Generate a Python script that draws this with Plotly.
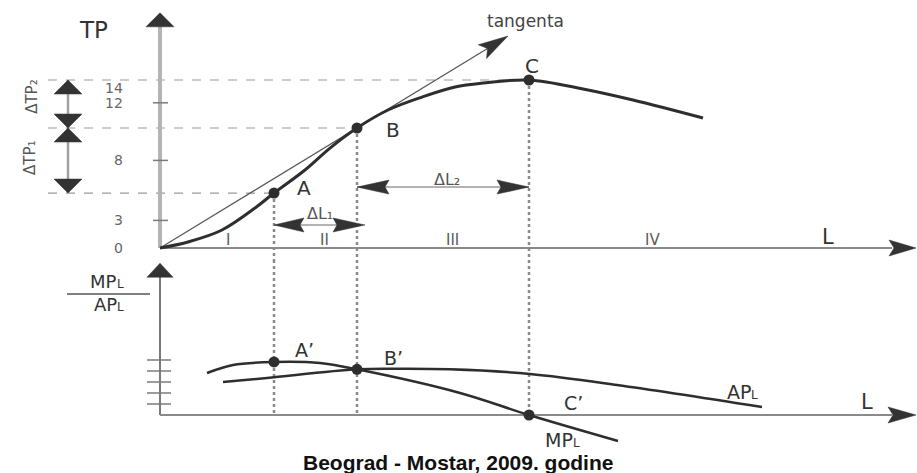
import math
import plotly.graph_objects as go

# ---------------- data ----------------
# Total product curve TP(L)
tp_L = [0.0, 0.7, 1.55, 2.375, 2.85, 3.625, 4.25, 4.925, 5.7, 6.55, 7.375, 8.075, 9.225, 10.575, 11.825, 13.575]
tp_V = [0.0, 0.5, 1.5, 3.33, 4.58, 6.5, 8.33, 10.0, 11.5, 12.58, 13.42, 13.75, 14.0, 13.25, 12.33, 10.83]

# key points on TP
pt_names = ["A", "B", "C"]
pt_L = [2.85, 4.925, 9.225]
pt_TP = [4.58, 10.0, 14.0]

# marginal product MP_L and average product AP_L
mp_L = [1.175, 1.825, 2.85, 4.0, 4.925, 7.5, 9.225, 11.45]
mp_V = [3.82, 4.55, 4.82, 4.73, 4.15, 2.0, 0.0, -2.36]
ap_L = [1.575, 2.675, 4.925, 6.0, 7.25, 9.25, 11.425, 15.05]
ap_V = [2.99, 3.36, 4.15, 4.2, 4.15, 3.73, 2.73, 0.73]

# primed points on MP / AP
pp_names = ["A\u2019", "B\u2019", "C\u2019"]
pp_V = [4.82, 4.15, 0.0]

# axis ticks / labels
tp_tick_text = ["0", "3", "8", "12", "14"]
tp_tick_pos = [0.0, 2.3, 7.3, 12.1, 13.3]
tp_tick_marks = [2.3, 7.3, 12.1]
low_tick_marks = [1, 2, 3, 4, 5]
stage_labels = ["I", "II", "III", "IV"]
stage_pos = [1.7, 4.1, 7.3, 12.3]

tangent_end_L = 8.7
L_axis_end = 18.9
TP_axis_end = 19.6
low_axis_end = 13.8
dTP_L = -2.3
dL1_level = 1.92
dL2_level = 5.08
guide_start_L = -2.8

caption = "Beograd - Mostar, 2009. godine"

# ---------------- geometry ----------------
W, H = 917, 473
X_RANGE = [-4.0, 18.925]
SPLIT = 0.4503
Y1_RANGE = [-1.0, 20.667]
Y2_RANGE = [-5.273, 14.09]
SX = W / (X_RANGE[1] - X_RANGE[0])
SY1 = H * (1 - SPLIT) / (Y1_RANGE[1] - Y1_RANGE[0])
SY2 = H * SPLIT / (Y2_RANGE[1] - Y2_RANGE[0])

DARK = "#2e2e2e"
FONT = "DejaVu Sans"

heads1_x, heads1_y, heads2_x, heads2_y = [], [], [], []


def head(tip, frm, sy, length, hw, notch=0.0, panel=1):
    dx = (tip[0] - frm[0]) * SX
    dy = (tip[1] - frm[1]) * sy
    n = math.hypot(dx, dy)
    ux, uy = dx / n, dy / n
    px, py = -uy, ux
    pts = [(0, 0),
           (-length * ux + hw * px, -length * uy + hw * py),
           (-(length - notch) * ux, -(length - notch) * uy),
           (-length * ux - hw * px, -length * uy - hw * py),
           (0, 0)]
    xs = [tip[0] + p[0] / SX for p in pts] + [None]
    ys = [tip[1] + p[1] / sy for p in pts] + [None]
    if panel == 1:
        heads1_x.extend(xs); heads1_y.extend(ys)
    else:
        heads2_x.extend(xs); heads2_y.extend(ys)


fig = go.Figure()


def seg(x, y, color, width, dash=None, yaxis="y", shape="linear"):
    fig.add_trace(go.Scatter(x=x, y=y, mode="lines", yaxis=yaxis, hoverinfo="skip",
                             line=dict(color=color, width=width, dash=dash, shape=shape),
                             showlegend=False))


# ---- top panel ----
gx, gy = [], []
for L, v in zip(pt_L, pt_TP):
    gx += [guide_start_L, L, None]; gy += [v, v, None]
seg(gx, gy, "#9a9a9a", 1.2, dash="dash")

dx_, dy_ = [], []
for L, v in zip(pt_L, pt_TP):
    dx_ += [L, L, None]; dy_ += [v, Y1_RANGE[0], None]
seg(dx_, dy_, "#8a8a8a", 2.5, dash="dot")

# TP axis
seg([0, 0], [0, TP_axis_end - 12 / SY1], "#b4b4b4", 4)
head((0, TP_axis_end), (0, 0), SY1, 14, 14)
# L axis
seg([0, L_axis_end - 24 / SX], [0, 0], "#8a8a8a", 2)
head((L_axis_end, 0), (0, 0), SY1, 27, 8, 5)
tx, ty = [], []
for t in tp_tick_marks:
    tx += [-7 / SX, 8 / SX, None]; ty += [t, t, None]
seg(tx, ty, "#7a7a7a", 1.5)

# tangent
slope = pt_TP[1] / pt_L[1]
tan_tip = (tangent_end_L, slope * tangent_end_L)
seg([0, tangent_end_L * 0.96], [0, slope * tangent_end_L * 0.96], "#555555", 1.2)
head(tan_tip, (0, 0), SY1, 30, 8, 6)

# delta TP arrows
seg([dTP_L, dTP_L], [pt_TP[0], pt_TP[2]], "#a0a0a0", 2.5)
head((dTP_L, pt_TP[2]), (dTP_L, pt_TP[1]), SY1, 14, 14)
head((dTP_L, pt_TP[1]), (dTP_L, pt_TP[2]), SY1, 14, 14)
head((dTP_L, pt_TP[1]), (dTP_L, pt_TP[0]), SY1, 14, 14)
head((dTP_L, pt_TP[0]), (dTP_L, pt_TP[1]), SY1, 14, 14)

# delta L arrows
seg([pt_L[0], pt_L[1]], [dL1_level, dL1_level], "#9a9a9a", 1.5)
head((pt_L[0], dL1_level), (pt_L[1], dL1_level), SY1, 30, 7, 4)
head((pt_L[1] + 8 / SX, dL1_level), (pt_L[0], dL1_level), SY1, 32, 7, 4)
seg([pt_L[1], pt_L[2]], [dL2_level, dL2_level], "#9a9a9a", 1.5)
head((pt_L[1], dL2_level), (pt_L[2], dL2_level), SY1, 32, 7, 4)
head((pt_L[2], dL2_level), (pt_L[1], dL2_level), SY1, 32, 7, 4)

# TP curve
seg(tp_L, tp_V, DARK, 3, shape="spline")
fig.add_trace(go.Scatter(x=pt_L, y=pt_TP, mode="markers", hoverinfo="skip", showlegend=False,
                         marker=dict(color=DARK, size=11)))

# ---- bottom panel ----
bx, by = [], []
for L, v in zip(pt_L, pp_V):
    bx += [L, L, None]; by += [Y2_RANGE[1], 0, None]
seg(bx, by, "#8a8a8a", 2.5, dash="dot", yaxis="y2")
seg([0, 0], [0, low_axis_end - 12 / SY2], "#7a7a7a", 2, yaxis="y2")
head((0, low_axis_end), (0, 0), SY2, 14, 13, panel=2)
seg([0, L_axis_end - 24 / SX], [0, 0], "#8a8a8a", 2, yaxis="y2")
head((L_axis_end, 0), (0, 0), SY2, 28, 8, 5, panel=2)
lx, ly = [], []
for t in low_tick_marks:
    lx += [-13 / SX, 11 / SX, None]; ly += [t, t, None]
seg(lx, ly, "#7a7a7a", 1.5, yaxis="y2")

seg(ap_L, ap_V, DARK, 2.5, yaxis="y2", shape="spline")
seg(mp_L, mp_V, DARK, 2.5, yaxis="y2", shape="spline")
fig.add_trace(go.Scatter(x=pt_L, y=pp_V, mode="markers", yaxis="y2", hoverinfo="skip",
                         showlegend=False, marker=dict(color=DARK, size=11)))

# arrow heads
fig.add_trace(go.Scatter(x=heads1_x, y=heads1_y, mode="lines", fill="toself", fillcolor="#333333",
                         line=dict(color="#333333", width=0.5), hoverinfo="skip", showlegend=False))
fig.add_trace(go.Scatter(x=heads2_x, y=heads2_y, mode="lines", fill="toself", fillcolor="#333333",
                         yaxis="y2", line=dict(color="#333333", width=0.5), hoverinfo="skip",
                         showlegend=False))

# ---------------- text ----------------
ann = []


def txt(x, y, text, size=16, color="#333333", yref="y", xanchor="center", yanchor="middle",
        xshift=0, yshift=0, angle=0, family=FONT):
    ann.append(dict(x=x, y=y, xref="x", yref=yref, text=text, showarrow=False,
                    xanchor=xanchor, yanchor=yanchor, xshift=xshift, yshift=yshift,
                    textangle=angle, borderpad=0,
                    font=dict(family=family, size=size, color=color)))


def label_L(x, y, main, yref="y2", size=19, small=12, xshift=0, yshift=0):
    # main text (e.g. "AP") followed by a smaller "L", baselines aligned
    txt(x, y, main, size=size, yref=yref, xanchor="right", yanchor="bottom",
        xshift=xshift, yshift=yshift)
    txt(x, y, "L", size=small, yref=yref, xanchor="left", yanchor="bottom",
        xshift=xshift - 2, yshift=yshift + 1)


for t, p in zip(tp_tick_text, tp_tick_pos):
    txt(0, p, t, size=14, color="#666666", xanchor="right", xshift=-36)
for t, p in zip(stage_labels, stage_pos):
    txt(p, 0, t, size=15, color="#5a5a5a", yshift=8)

offs = [(30, 5), (36, -2), (3, 14)]
for n, L, v, (xs, ys) in zip(pt_names, pt_L, pt_TP, offs):
    txt(L, v, n, size=20, xshift=xs, yshift=ys)
offs2 = [(30, 12), (36, 11), (44, 12)]
for n, L, v, (xs, ys) in zip(pp_names, pt_L, pp_V, offs2):
    txt(L, v, n, size=19, yref="y2", xshift=xs, yshift=ys)

txt(-1.675, 18.17, "TP", size=23)
txt(9.125, 18.9, "tangenta", size=17, color="#444444")
txt(16.7, 0, "L", size=21, yshift=11)
txt(17.675, 0, "L", size=21, yref="y2", yshift=13)
txt(4.0, 2.9, "\u0394L\u2081", size=16, color="#555555")
txt(7.175, 5.67, "\u0394L\u2082", size=16, color="#555555")
txt(-3.2, 12.6, "\u0394TP\u2082", size=15, color="#555555", angle=-90)
txt(-3.25, 7.5, "\u0394TP\u2081", size=15, color="#555555", angle=-90)

label_L(14.575, 2.09, "AP", xshift=9, yshift=-12)
label_L(10.125, -2.27, "MP", xshift=9, yshift=-12)
frac_y = 11.0
label_L(-1.25, frac_y, "MP", size=18, xshift=8, yshift=1)
label_L(-1.25, frac_y, "AP", size=18, xshift=8, yshift=-22)

ann.append(dict(x=458 / W, y=(H - 462) / H, xref="paper", yref="paper", text="<b>" + caption + "</b>",
                showarrow=False, xanchor="center", yanchor="middle",
                font=dict(family="Liberation Sans", size=21, color="#111111")))

fig.update_layout(
    width=W, height=H, margin=dict(l=0, r=0, t=0, b=0),
    paper_bgcolor="white", plot_bgcolor="white", showlegend=False,
    xaxis=dict(domain=[0, 1], range=X_RANGE, visible=False, fixedrange=True),
    yaxis=dict(domain=[SPLIT, 1], range=Y1_RANGE, visible=False, fixedrange=True),
    yaxis2=dict(domain=[0, SPLIT], range=Y2_RANGE, visible=False, anchor="x", fixedrange=True),
    annotations=ann,
    shapes=[dict(type="line", xref="x", yref="y2", x0=-2.325, x1=-0.25, y0=frac_y, y1=frac_y,
                 line=dict(color="#555555", width=1.5))],
)

fig.write_html("out.html", config={"displayModeBar": False},
               post_script="document.body.style.margin='0';document.body.style.overflow='hidden';")
